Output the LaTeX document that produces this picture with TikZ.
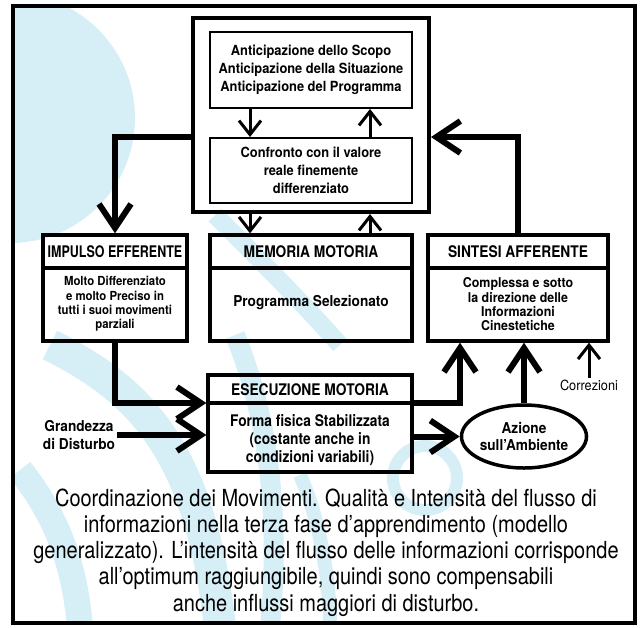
\documentclass[tikz,border=0pt]{standalone}
\usepackage{fontspec}
\setmainfont{TeX Gyre Heros}
\newfontfamily\fA{TeX Gyre Heros}[FakeStretch=0.92]
\newfontfamily\fB{TeX Gyre Heros}[FakeStretch=0.86]
\newfontfamily\fC{TeX Gyre Heros}[FakeStretch=0.78]
\newfontfamily\fD{TeX Gyre Heros}[FakeStretch=0.85]
\newfontfamily\fE{TeX Gyre Heros}[FakeStretch=0.91]
\usetikzlibrary{arrows.meta,calc,shapes.geometric}
\definecolor{wm}{RGB}{214,239,246}
\begin{document}
\begin{tikzpicture}[x=1pt,y=-1pt,
  bigbox/.style={draw,line width=4pt,inner sep=0pt},
  inbox/.style={draw,line width=2pt,inner sep=0pt,align=center,font=\fA\bfseries\fontsize{14}{18}\selectfont},
  rowbox/.style={draw,line width=3.3pt,inner sep=0pt},
  head/.style={inner sep=0pt,font=\fB\bfseries\fontsize{16}{18}\selectfont},
  body/.style={inner sep=0pt,align=center},
  flow/.style={line width=6pt,-{Straight Barb[length=24pt,width=32pt]}},
  small/.style={line width=3pt,-{Straight Barb[length=14pt,width=22pt]}},
]
\useasboundingbox (0,0) rectangle (640,627);
% watermark
\begin{scope}
\clip (13,6) rectangle (635,623);
\fill[wm] (10,118) circle (125);
\draw[wm,line width=32pt] (50,345) .. controls (140,390) and (200,450) .. (220,627);
\draw[wm,line width=26pt] (20,470) .. controls (60,520) and (75,570) .. (80,627);
\draw[wm,line width=20pt] (235,335) .. controls (270,420) and (280,520) .. (270,627);
\draw[wm,line width=14pt] (300,475) .. controls (320,520) and (330,580) .. (330,627);
\draw[wm,line width=18pt] (215,215) .. controls (260,260) and (300,300) .. (340,345);
\draw[wm,line width=12pt] (425,478) circle (32);
\end{scope}
% frame
\node[draw,line width=4pt,minimum width=622pt,minimum height=617pt,inner sep=0pt] (frame) at (324,314.5) {};
% top block
\node[bigbox,minimum width=236pt,minimum height=194pt] (big) at (311,115) {};
\node[inbox,minimum width=202pt,minimum height=76pt] (ant) at (311,70)
  {Anticipazione dello Scopo\\Anticipazione della Situazione\\Anticipazione del Programma};
\node[inbox,minimum width=202pt,minimum height=65pt] (conf) at (311,170.5)
  {Confronto con il valore\\reale finemente\\differenziato};
% row boxes
\node[rowbox,minimum width=144pt,minimum height=106pt] (imp) at (115,288) {};
\node[rowbox,minimum width=202pt,minimum height=106pt] (mem) at (311,288) {};
\node[rowbox,minimum width=180pt,minimum height=106pt] (sin) at (518,288) {};
\foreach \b in {imp,mem,sin}
  \draw[line width=3.3pt] ($(\b.west)+(0,-20)$) -- ($(\b.east)+(0,-20)$);
\node[head,font=\fC\bfseries\fontsize{16}{18}\selectfont] (imph) at (115,252) {IMPULSO EFFERENTE};
\node[head] (memh) at (311,252) {MEMORIA MOTORIA};
\node[head] (sinh) at (518,252) {SINTESI AFFERENTE};
\node[body,font=\fE\bfseries\fontsize{12.5}{14.3}\selectfont] (impb) at (115,304)
  {Molto Differenziato\\e molto Preciso in\\tutti i suoi movimenti\\parziali};
\node[body,font=\fE\bfseries\fontsize{15}{17}\selectfont] (memb) at (311,303) {Programma Selezionato};
\node[body,font=\fA\bfseries\fontsize{13.5}{14.3}\selectfont] (sinb) at (518,304.5)
  {Complessa e sotto\\la direzione delle\\Informazioni\\Cinestetiche};
% esecuzione
\node[rowbox,minimum width=204pt,minimum height=97pt] (ese) at (310,423.5) {};
\draw[line width=3.3pt] ($(ese.west)+(0,-20.5)$) -- ($(ese.east)+(0,-20.5)$);
\node[head] (eseh) at (310,389.5) {ESECUZIONE MOTORIA};
\node[body,font=\fB\bfseries\fontsize{16}{18}\selectfont] (eseb) at (310,440)
  {Forma fisica Stabilizzata\\(costante anche in\\condizioni variabili)};
% ellipse
\node[draw,ellipse,line width=3.5pt,minimum width=102pt,minimum height=63pt,inner sep=0pt,
  align=center,font=\fE\bfseries\fontsize{15}{17}\selectfont] (az) at (524,436.5)
  {Azione\\sull’Ambiente};
% side labels
\node[body,font=\fE\bfseries\fontsize{15}{18}\selectfont,inner sep=2pt] (gr) at (79,435)
  {Grandezza\\di Disturbo};
\node[inner sep=1pt,font=\fE\fontsize{14}{16}\selectfont] (cor) at (589,385) {Correzioni};
% connectors
\draw[flow] (big.west |- conf.north) -| (imp.north);
\draw[flow] (sin.north) |- (big.east |- conf.north);
\draw[small] ($(ant.south)+(-61,0)$) -- ($(conf.north)+(-61,0)$);
\draw[small] ($(conf.north)+(59,0)$) -- ($(ant.south)+(59,0)$);
\draw[small] ($(big.south)+(-61,0)$) -- ($(mem.north)+(-61,0)$);
\draw[small] ($(mem.north)+(59,0)$) -- ($(big.south)+(59,0)$);
\draw[flow] (imp.south) |- ($(ese.west)+(0,-20.5)$);
\draw[flow] (gr.east) -- (gr.east -| ese.west);
\draw[flow] ($(ese.east)+(0,-20.5)$) -| ($(sin.south)+(-58,0)$);
\draw[flow] (az.west -| ese.east) -- (az.west);
\draw[flow] (az.north) -- (az.north |- sin.south);
\draw[small] (cor.north) -- (cor.north |- sin.south);
% caption
\node[align=center,inner sep=0pt,font=\fD\fontsize{23.5}{26.2}\selectfont] (cap) at (326,552.5)
  {Coordinazione dei Movimenti. Qualità e Intensità del flusso di\\
   informazioni nella terza fase d’apprendimento (modello\\
   generalizzato). L’intensità del flusso delle informazioni corrisponde\\
   all’optimum raggiungibile, quindi sono compensabili\\
   anche influssi maggiori di disturbo.};
\end{tikzpicture}
\end{document}
